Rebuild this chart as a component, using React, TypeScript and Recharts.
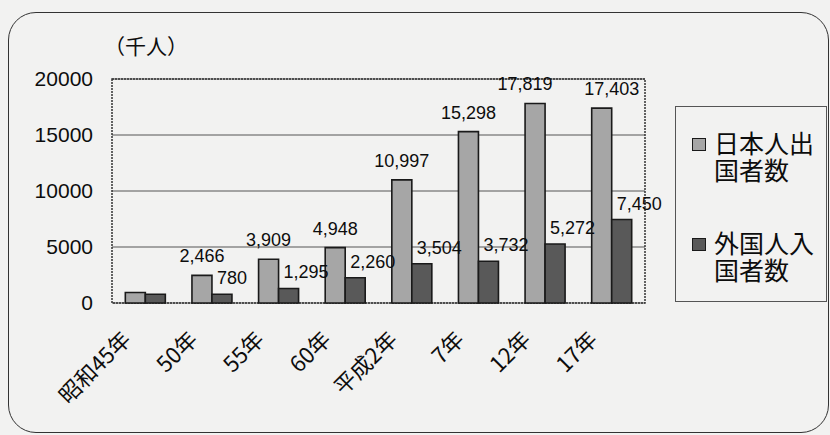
import { Bar, BarChart, CartesianGrid, LabelList, Legend, ReferenceArea, XAxis, YAxis } from "recharts";

const years = ["昭和45年", "50年", "55年", "60年", "平成2年", "7年", "12年", "17年"];
// 千人
const japaneseDepartures = [936, 2466, 3909, 4948, 10997, 15298, 17819, 17403];
const foreignEntrants = [775, 780, 1295, 2260, 3504, 3732, 5272, 7450];
const yTicks = [0, 5000, 10000, 15000, 20000];
const seriesNames = ["日本人出国者数", "外国人入国者数"];
const unitLabel = "（千人）";

const rows = years.map((year, i) => ({
  year,
  departures: japaneseDepartures[i],
  entrants: foreignEntrants[i],
}));

// group borders for the little inner tick marks
const edgeTicks = years.map((_, i) => i).slice(1);

const LATIN = "'Liberation Sans', Arial, 'Noto Sans CJK JP', sans-serif";
const CJK = "'Noto Sans CJK JP', 'Liberation Sans', sans-serif";
const LIGHT = "#a6a6a6";
const DARK = "#595959";
const INK = "#0d0d0d";

// the two tallest labels are pushed sideways so they don't collide
const lightNudge: Record<number, number> = { 6: -10, 7: 10 };

const fmt = (v: number) => v.toLocaleString("en-US");

function LightLabel(props: any) {
  const { x, y, width, value, index } = props;
  if (index === 0) return null; // first year carries no value label
  return (
    <text
      x={x + width / 2 + (lightNudge[index] || 0)}
      y={y - 13}
      textAnchor="middle"
      fontSize={18}
      fontFamily={LATIN}
      fill={INK}
    >
      {fmt(value)}
    </text>
  );
}

function DarkLabel(props: any) {
  const { x, y, value, index } = props;
  if (index === 0) return null;
  return (
    <text x={x + 5} y={y - 10} textAnchor="start" fontSize={18} fontFamily={LATIN} fill={INK}>
      {fmt(value)}
    </text>
  );
}

function YearTick(props: any) {
  const { x, y, payload } = props;
  return (
    <g transform={`translate(${x - 13},${y + 38}) rotate(-45)`}>
      <text textAnchor="end" fontSize={22} fontFamily={CJK} fill={INK}>
        {payload.value}
      </text>
    </g>
  );
}

function UnitLabel(props: any) {
  const vb = props.viewBox || { x: 8, y: 79, width: 104 };
  return (
    <text x={vb.x + vb.width - 8} y={vb.y - 25} fontSize={21} fontFamily={CJK} fill={INK}>
      {unitLabel}
    </text>
  );
}

function LegendBox(props: any) {
  const items = [...(props.payload || [])].sort(
    (a: any, b: any) => seriesNames.indexOf(a.value) - seriesNames.indexOf(b.value)
  );
  return (
    <div
      style={{
        boxSizing: "border-box",
        width: 152,
        height: 196,
        border: "1px solid #555",
        paddingTop: 22,
        paddingLeft: 16,
      }}
    >
      {items.map((item: any, i: number) => (
        <div key={item.value} style={{ display: "flex", marginTop: i === 0 ? 0 : 46 }}>
          <div
            style={{
              boxSizing: "border-box",
              width: 14,
              height: 13,
              marginTop: 9,
              background: item.color,
              border: "1.5px solid #1a1a1a",
              flexShrink: 0,
            }}
          />
          <div
            style={{
              marginLeft: 8,
              width: 104,
              fontFamily: CJK,
              fontSize: 25,
              lineHeight: "27px",
              color: INK,
              wordBreak: "break-all",
            }}
          >
            {item.value}
          </div>
        </div>
      ))}
    </div>
  );
}

export default function App() {
  return (
    <div
      style={{
        position: "absolute",
        left: 0,
        top: 0,
        width: 830,
        height: 435,
        background: "#f2f2f1",
        overflow: "hidden",
      }}
    >
      <div
        style={{
          position: "absolute",
          left: 8,
          top: 12,
          width: 821,
          height: 421,
          boxSizing: "border-box",
          border: "1.5px solid #333",
          borderRadius: 28,
        }}
      />
      <BarChart
        width={830}
        height={435}
        data={rows}
        margin={{ top: 79, right: 185, bottom: 131, left: 8 }}
        barCategoryGap="20%"
        barGap={0}
      >
        <CartesianGrid vertical={false} stroke="#555" strokeWidth={1} />
        <XAxis
          xAxisId="edges"
          type="number"
          domain={[0, years.length]}
          ticks={edgeTicks}
          allowDataOverflow
          height={1}
          mirror
          axisLine={false}
          tick={false}
          tickSize={5}
          tickLine={{ stroke: "#777", strokeWidth: 1 }}
        />
        <XAxis
          dataKey="year"
          height={1}
          interval={0}
          axisLine={false}
          tickLine={false}
          tickSize={0}
          tickMargin={0}
          tick={<YearTick />}
        />
        <YAxis
          width={104}
          domain={[0, 20000]}
          ticks={yTicks}
          axisLine={false}
          tickLine={false}
          tickSize={0}
          tickMargin={19}
          tick={{ fontSize: 21, fontFamily: LATIN, fill: INK }}
          label={<UnitLabel />}
        />
        <Legend
          layout="horizontal"
          verticalAlign="middle"
          align="center"
          content={<LegendBox />}
          wrapperStyle={{ left: 675, top: 106, width: 152, height: 196 }}
        />
        <Bar
          dataKey="departures"
          name={seriesNames[0]}
          fill={LIGHT}
          stroke="#1a1a1a"
          strokeWidth={1.6}
          isAnimationActive={false}
        >
          <LabelList dataKey="departures" content={<LightLabel />} />
        </Bar>
        <Bar
          dataKey="entrants"
          name={seriesNames[1]}
          fill={DARK}
          stroke="#1a1a1a"
          strokeWidth={1.6}
          isAnimationActive={false}
        >
          <LabelList dataKey="entrants" content={<DarkLabel />} />
        </Bar>
        <ReferenceArea
          y1={0}
          y2={20000}
          fill="none"
          stroke="#333"
          strokeWidth={1.5}
          strokeDasharray="2 1"
        />
      </BarChart>
    </div>
  );
}
